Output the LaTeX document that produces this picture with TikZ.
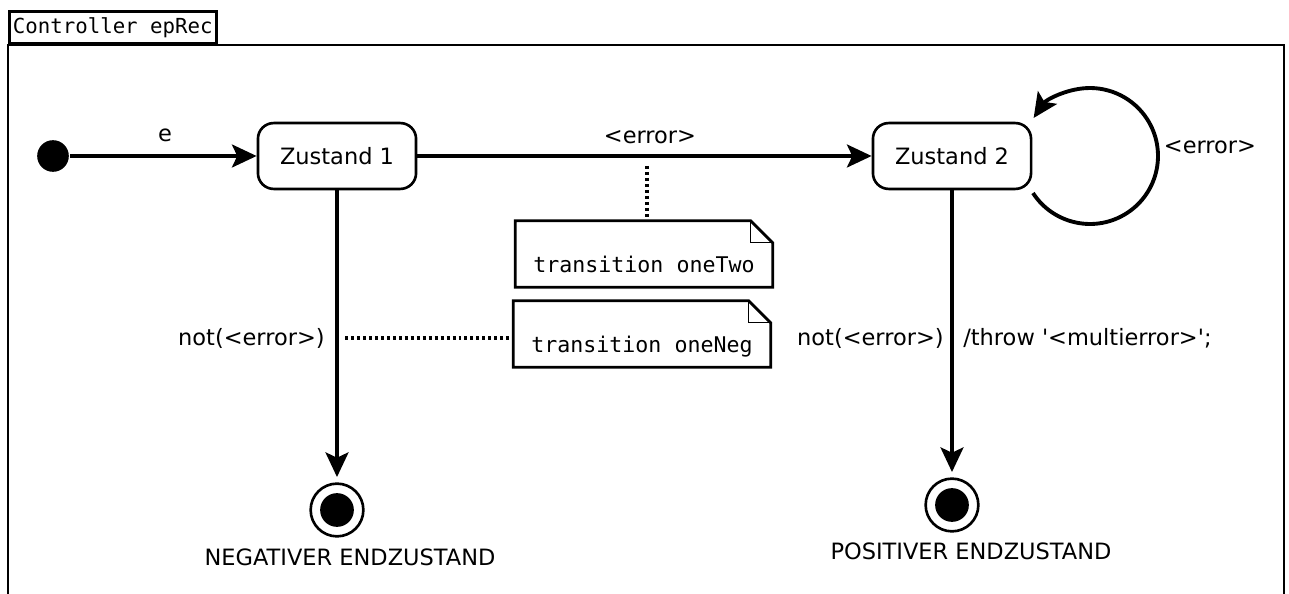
\documentclass[tikz,border=0pt]{standalone}
\usepackage{fontspec}
\setmainfont{DejaVu Sans}[Ligatures=TeXOff]
\setmonofont{DejaVu Sans Mono}
\usetikzlibrary{arrows.meta}

% dog-eared outline round a note node
\newcommand{\notefold}[1]{%
  \draw[line width=1.6pt] (#1.north west) -- ([xshift=-12.5pt]#1.north east) -- ([yshift=-12.5pt]#1.north east) -- (#1.south east) -- (#1.south west) -- cycle;
  \draw[line width=0.8pt] ([xshift=-12.5pt]#1.north east) -- ([xshift=-12.5pt,yshift=-12.5pt]#1.north east) -- ([yshift=-12.5pt]#1.north east);
}

\begin{document}
\begin{tikzpicture}[
                x=0.02cm, y=-0.02cm,
                line width=1.5pt,
                lbl/.style={font=\fontsize{12.8}{15}\selectfont, inner sep=0pt},
                state/.style={draw, rounded corners=9pt, minimum width=90pt, minimum height=37.5pt, font=\fontsize{12.8}{15}\selectfont},
                note/.style={font=\ttfamily\fontsize{12.3}{14}\selectfont, inner sep=0pt, minimum width=145pt, text height=28.5pt, text depth=7.8pt},
                final/.style={circle, draw, fill=white, minimum size=30pt, inner sep=0pt, path picture={\fill[black] (path picture bounding box.center) circle (9.6pt);}},
                trans/.style={line width=2.2pt, -{Stealth[length=14pt,width=13pt,inset=3pt]}},
                anchorline/.style={line width=2.2pt, dash pattern=on 1.7pt off 1.7pt}] %

\useasboundingbox (0,0) rectangle (1289,594);

                    % frame
                    \node[draw, anchor=south west, inner xsep=2pt, minimum height=16pt, font=\ttfamily\fontsize{11.8}{14}\selectfont, line width=1.6pt] (TAB) at (8,45) {Controller epRec};
                    \draw[line width=1.6pt] (8,600) -- (TAB.south west) -- (1284,45) -- (1284,600);

                    % states
                    \node[circle, fill, minimum size=18pt, inner sep=0pt] (INIT) at (53,156) {};
                    \node[state] (Z1) at (337,156) {Zustand 1};
                    \node[state] (Z2) at (952,156) {Zustand 2};
                    \node[final] (ENDNEG) at (337,510) {};
                    \node[final] (ENDPOS) at (952,505) {};
                    \node[lbl] (NEGTXT) at (350,557) {NEGATIVER ENDZUSTAND};
                    \node[lbl] (POSTXT) at (971,551) {POSITIVER ENDZUSTAND};

                    % transitions
                    \draw[trans] (INIT) -- (Z1);
                    \node[lbl] (EVT) at (165,135) {e};
                    \draw[trans] (Z1) -- (Z2);
                    \node[lbl] (ERRTWO) at (650,137) {<error>};
                    \draw[trans, shorten >=3pt] (Z1) -- (ENDNEG);
                    \node[lbl, anchor=east] (NOTNEG) at (326,338) {not(<error>)};
                    \draw[trans, shorten >=3pt] (Z2) -- (ENDPOS);
                    \node[lbl, anchor=east] (NOTPOS) at (945,338) {not(<error>)};
                    \node[lbl, anchor=west] (THROW) at (962,338) {/throw '<multierror>';};

                    % self loop on Zustand 2
                    \coordinate (LOOPC) at (1090,156);
                    \draw[trans] ([shift={(-147:1.36cm)}]LOOPC) arc[start angle=-147, end angle=146, radius=1.36cm];
                    \node[lbl] (ERRLOOP) at (1210,147) {<error>};

                    % notes
                    \node[note] (NOTE12) at (644,254) {transition oneTwo};
                    \notefold{NOTE12}
                    \node[note] (NOTE1N) at (642,334) {transition oneNeg};
                    \notefold{NOTE1N}
                    \coordinate (DOTTWO) at (647,166);
                    \coordinate (DOTNEG) at (345,338);
                    \draw[anchorline] (DOTTWO) -- (DOTTWO |- NOTE12.north);
                    \draw[anchorline] (DOTNEG) -- (NOTE1N.west |- DOTNEG);

\end{tikzpicture}
\end{document}
